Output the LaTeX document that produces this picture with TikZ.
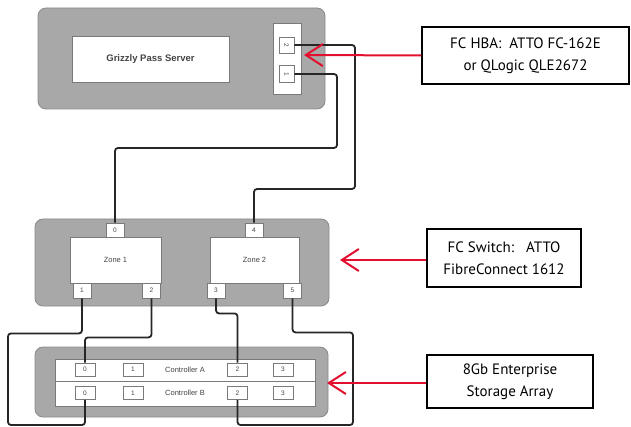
\documentclass[tikz,border=0pt]{standalone}
\usepackage{fontspec}
\setmainfont{Liberation Sans}
\newfontfamily\labelfont{PT Sans}
\usetikzlibrary{arrows.meta}
\definecolor{boxgray}{HTML}{A8A8A8}
\definecolor{boxedge}{HTML}{8A8A8A}
\definecolor{inedge}{HTML}{7A7A7A}
\definecolor{txtgray}{HTML}{444444}
\definecolor{arrred}{HTML}{E2102E}
\tikzset{
  outerbox/.style={draw=boxedge, fill=boxgray, rounded corners=8pt, line width=0.8pt, inner sep=0pt},
  panel/.style={draw=inedge, fill=white, line width=0.7pt, inner sep=0pt},
  portbox/.style={draw=inedge, fill=white, line width=0.8pt, inner sep=0pt, font=\fontsize{6.5}{7}\selectfont, text=txtgray},
  cable/.style={draw=black!85, line width=1.8pt, rounded corners=3pt},
  callout/.style={draw=black, fill=white, line width=1.6pt, inner sep=0pt, align=center, font=\labelfont\fontsize{15}{22}\selectfont},
  pointer/.style={draw=arrred, line width=2pt, -{Straight Barb[length=17pt,width=22pt]}},
  small/.style={font=\fontsize{7.5}{8}\selectfont, text=txtgray}
}
\begin{document}
\begin{tikzpicture}[x=1pt,y=-1pt]
\useasboundingbox (0,0) rectangle (631,427);
% server
\node[outerbox, minimum width=287, minimum height=101] (server) at (181.5,58.5) {};
\node[panel, minimum width=157, minimum height=46, font=\bfseries\fontsize{9.5}{11}\selectfont, text=txtgray] (gps) at (150.5,59) {Grizzly Pass Server};
\node[panel, minimum width=28, minimum height=71] (hba) at (287,58.5) {};
\node[portbox, minimum width=15, minimum height=16] (hbatwo) at (286.5,45) {\rotatebox{-90}{2}};
\node[portbox, minimum width=15, minimum height=17] (hbaone) at (286.5,74) {\rotatebox{-90}{1}};
% switch
\node[outerbox, minimum width=294, minimum height=87] (switch) at (182,262.5) {};
\node[panel, minimum width=91, minimum height=46, small] (zoneone) at (115.5,260) {Zone 1};
\node[panel, minimum width=89, minimum height=46, small] (zonetwo) at (254.5,260) {Zone 2};
\node[portbox, minimum width=18, minimum height=14] (sz) at (115,230) {0};
\node[portbox, minimum width=18, minimum height=14] (sf) at (254,230) {4};
\node[portbox, minimum width=18, minimum height=15] (so) at (82,290.5) {1};
\node[portbox, minimum width=18, minimum height=15] (st) at (151.5,290.5) {2};
\node[portbox, minimum width=18, minimum height=15] (sth) at (216,290.5) {3};
\node[portbox, minimum width=18, minimum height=15] (sfi) at (292.5,290.5) {5};
% storage
\node[outerbox, minimum width=293, minimum height=70] (storage) at (181.5,382) {};
\node[panel, minimum width=260, minimum height=47] (ctrlpanel) at (185,382.5) {};
\draw[draw=inedge, line width=0.7pt] (ctrlpanel.west |- 0,381) -- (ctrlpanel.east |- 0,381);
\node[small] (ctrla) at (185,369.5) {Controller A};
\node[small] (ctrlb) at (185,393) {Controller B};
\node[portbox, minimum width=20, minimum height=13] (az) at (85,369.5) {0};
\node[portbox, minimum width=20, minimum height=13] (ao) at (133,369.5) {1};
\node[portbox, minimum width=20, minimum height=13] (at) at (237.5,369.5) {2};
\node[portbox, minimum width=20, minimum height=13] (ath) at (283,369.5) {3};
\node[portbox, minimum width=20, minimum height=13] (bz) at (85,393) {0};
\node[portbox, minimum width=20, minimum height=13] (bo) at (133,393) {1};
\node[portbox, minimum width=20, minimum height=13] (bt) at (237.5,393) {2};
\node[portbox, minimum width=20, minimum height=13] (bth) at (283,393) {3};
% cables
\draw[cable] (hbatwo.east) -| (355,189) -| (sf.north);
\draw[cable] (hbaone.east) -| (337,148) -| (sz.north);
\draw[cable] (so.south) -- ++(0,35) -| (8,425) -| (bz.south);
\draw[cable] (st.south) -- ++(0,39) -| (az.north);
\draw[cable] (sth.south) -- ++(0,15) -| (at.north);
\draw[cable] (sfi.south) -- ++(0,34) -| (353,425) -| (bt.south);
% callouts
\node[callout, minimum width=207, minimum height=57] (hbalabel) at (525.5,55.5) {FC HBA:\ \ ATTO FC-162E\\or QLogic QLE2672};
\node[callout, minimum width=154, minimum height=58] (swlabel) at (504,258) {FC Switch:\ \ \ ATTO\\FibreConnect 1612};
\node[callout, minimum width=166, minimum height=53] (stlabel) at (510,381.5) {8Gb Enterprise\\Storage Array};
\coordinate (hbatip) at (304,55);
\coordinate (swtip) at (340,260);
\coordinate (sttip) at (327,383);
\draw[pointer] (hbalabel.west) -- (hbatip);
\draw[pointer] (swlabel.west |- swtip) -- (swtip);
\draw[pointer] (stlabel.west |- sttip) -- (sttip);
\end{tikzpicture}
\end{document}
